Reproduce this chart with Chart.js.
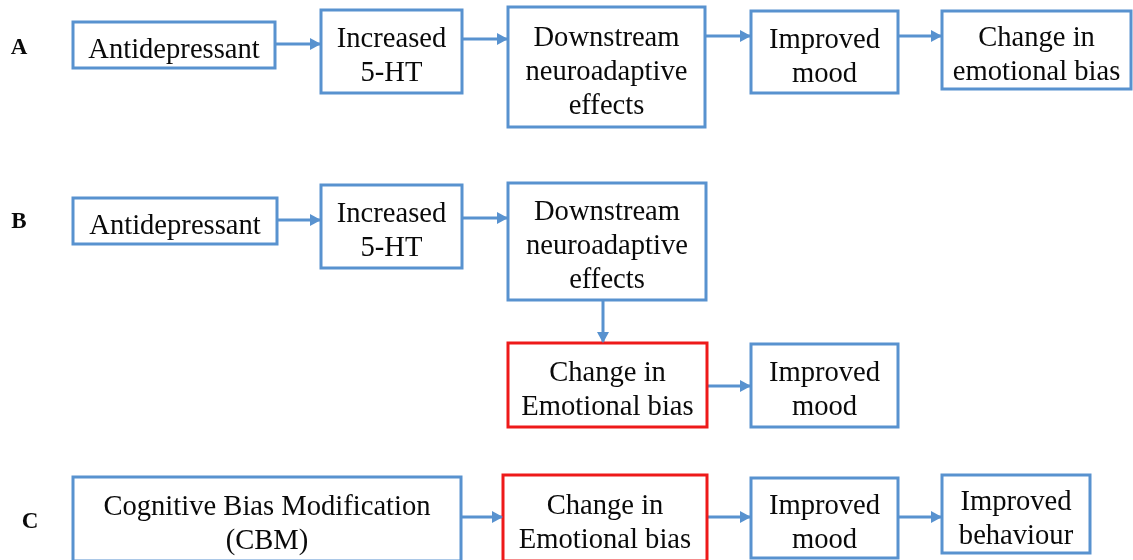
<!DOCTYPE html>
<html>
<head>
<meta charset="utf-8">
<script src="https://cdn.jsdelivr.net/npm/chart.js@4/dist/chart.umd.min.js"></script>
<style>
  html, body { margin: 0; padding: 0; background: #fff; }
  #wrap { width: 1133px; height: 560px; }
</style>
</head>
<body>
<div id="wrap"><canvas id="flow" width="1133" height="560"></canvas></div>
<script>
// Diagram content
const rowLabels = ['A', 'B', 'C'];
const nodeTexts = [
    'Antidepressant', 'Increased\n5-HT', 'Downstream\nneuroadaptive\neffects', 'Improved\nmood', 'Change in\nemotional bias',
    'Antidepressant', 'Increased\n5-HT', 'Downstream\nneuroadaptive\neffects', 'Change in\nEmotional bias', 'Improved\nmood',
    'Cognitive Bias Modification\n(CBM)', 'Change in\nEmotional bias', 'Improved\nmood', 'Improved\nbehaviour'
];
const keyNodes = [8, 11];   // emotional bias step, outlined in red
const links = [[0, 1], [1, 2], [2, 3], [3, 4], [5, 6], [6, 7], [7, 8], [8, 9], [10, 11], [11, 12], [12, 13]];

// Layout, in the figure's own units (x 0..1133, y 0..560 from the top)
const labelPos = [[19, 48], [19, 222], [30, 522]];
const boxes = [
    [73, 22, 275, 68], [321, 10, 462, 93], [508, 7, 705, 127], [751, 11, 898, 93], [942, 11, 1131, 89],
    [73, 198, 277, 244], [321, 185, 462, 268], [508, 183, 706, 300], [508, 343, 707, 427], [751, 344, 898, 427],
    [73, 477, 461, 561], [503, 475, 707, 561], [751, 478, 898, 558], [942, 475, 1090, 553]
];
const linkLevel = [44, 39, 36, 36, 220, 218, 603, 386, 517, 517, 517];

const BLUE = '#5892cf';
const RED = '#ee1a1a';
const FONT = '"Liberation Serif", "Times New Roman", serif';

function boxPoints(b) {
    const [x1, y1, x2, y2] = b;
    return [
        { x: x1, y: y1 }, { x: x2, y: y1 }, { x: x2, y: y2 },
        { x: x1, y: y2 }, { x: x1, y: y1 }, { x: x2, y: y1 }
    ];
}

function linkPoints(link, i) {
    const a = boxes[link[0]];
    const b = boxes[link[1]];
    const lv = linkLevel[i];
    if (b[0] > a[2]) {
        return [{ x: a[2], y: lv }, { x: b[0], y: lv }];
    }
    return [{ x: lv, y: a[3] }, { x: lv, y: b[1] }];
}

const datasets = [];
boxes.forEach((b, i) => {
    datasets.push({
        kind: 'box',
        data: boxPoints(b),
        showLine: true,
        borderColor: keyNodes.includes(i) ? RED : BLUE,
        borderWidth: 3,
        borderJoinStyle: 'miter',
        pointRadius: 0,
        tension: 0,
        clip: false
    });
});
links.forEach((l, i) => {
    datasets.push({
        kind: 'link',
        data: linkPoints(l, i),
        showLine: true,
        borderColor: BLUE,
        borderWidth: 3,
        borderCapStyle: 'butt',
        pointRadius: 0,
        tension: 0,
        clip: false
    });
});

// arrow heads and all text
const flowText = {
    id: 'flowText',
    afterDatasetsDraw(chart) {
        const ctx = chart.ctx;
        const xs = chart.scales.x;
        const ys = chart.scales.y;
        ctx.save();

        chart.data.datasets.forEach((ds, di) => {
            if (ds.kind !== 'link') return;
            const pts = chart.getDatasetMeta(di).data;
            const p0 = pts[0], p1 = pts[pts.length - 1];
            const ang = Math.atan2(p1.y - p0.y, p1.x - p0.x);
            const len = 11, half = 6;
            ctx.fillStyle = BLUE;
            ctx.beginPath();
            ctx.moveTo(p1.x, p1.y);
            ctx.lineTo(p1.x - len * Math.cos(ang) + half * Math.sin(ang), p1.y - len * Math.sin(ang) - half * Math.cos(ang));
            ctx.lineTo(p1.x - len * Math.cos(ang) - half * Math.sin(ang), p1.y - len * Math.sin(ang) + half * Math.cos(ang));
            ctx.closePath();
            ctx.fill();
        });

        ctx.fillStyle = '#0a0a0a';
        ctx.textAlign = 'center';
        ctx.textBaseline = 'middle';
        ctx.font = '28.6px ' + FONT;
        nodeTexts.forEach((t, i) => {
            const b = boxes[i];
            const cx = xs.getPixelForValue((b[0] + b[2]) / 2);
            const cy = ys.getPixelForValue((b[1] + b[3]) / 2);
            const lines = t.split('\n');
            lines.forEach((ln, k) => {
                ctx.fillText(ln, cx, cy + (k - (lines.length - 1) / 2) * 34 + 5);
            });
        });

        ctx.font = 'bold 23px ' + FONT;
        rowLabels.forEach((lb, i) => {
            ctx.fillText(lb, xs.getPixelForValue(labelPos[i][0]), ys.getPixelForValue(labelPos[i][1]));
        });
        ctx.restore();
    }
};

new Chart(document.getElementById('flow').getContext('2d'), {
    type: 'scatter',
    data: { datasets: datasets },
    options: {
        responsive: false,
        animation: false,
        layout: { padding: 0 },
        scales: {
            x: { type: 'linear', min: 0, max: 1133, display: false },
            y: { type: 'linear', min: 0, max: 560, reverse: true, display: false }
        },
        plugins: {
            legend: { display: false },
            tooltip: { enabled: false }
        },
        events: []
    },
    plugins: [flowText]
});
</script>
</body>
</html>
